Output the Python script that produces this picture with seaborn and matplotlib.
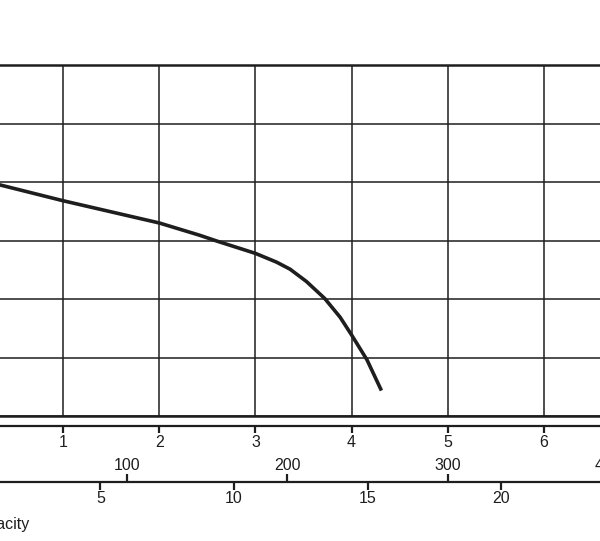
import matplotlib
matplotlib.use('Agg')
import matplotlib.pyplot as plt
import seaborn as sns

# pump curve: flow in l/s, head in m
flow_ls = [0.0, 0.345, 1.0, 2.0, 2.42, 2.6, 3.0, 3.22, 3.36, 3.53, 3.72, 3.88, 4.0, 4.16, 4.31]
head_m = [40.9, 39.5, 36.8, 33.0, 30.9, 29.9, 27.8, 26.3, 25.1, 23.0, 20.1, 16.9, 13.85, 9.6, 4.35]

# axis ticks
ls_ticks = [1, 2, 3, 4, 5, 6]
lmin_ticks = [100, 200, 300, 400]
m3h_ticks = [5, 10, 15, 20]
head_grid = [0, 10, 20, 30, 40, 50, 60]
flow_max = 7
head_max = 60
capacity_label = 'Capacity'

sns.set_theme(style='white')
plt.rcParams['font.family'] = ['Liberation Sans', 'DejaVu Sans']

ink = '#1e1e1e'
W, H = 600, 541
fig = plt.figure(figsize=(W / 100, H / 100), dpi=100)
# the chart is cropped on both sides, so the axes run past the figure edges
ax = fig.add_axes([-33.2 / W, 125 / H, 673.4 / W, 351 / H])

sns.lineplot(x=flow_ls, y=head_m, ax=ax, color=ink, lw=2.6, zorder=5,
             solid_joinstyle='round', solid_capstyle='butt')
ax.set_xlim(0, flow_max)
ax.set_ylim(0, head_max)
ax.set_xticks(ls_ticks)
ax.set_yticks(head_grid)
ax.grid(True, color=ink, lw=1.1)
ax.axhline(0, color=ink, lw=1.8, clip_on=False)
ax.set_xlabel('')
ax.set_ylabel('')

for side in ['left', 'right']:
    ax.spines[side].set_visible(False)
ax.spines['top'].set_color(ink)
ax.spines['top'].set_linewidth(1.8)
ax.spines['bottom'].set_color(ink)
ax.spines['bottom'].set_linewidth(1.6)
ax.spines['bottom'].set_position(('outward', 7.2))
ax.tick_params(axis='y', left=False, labelleft=False)
ax.tick_params(axis='x', bottom=True, direction='out', length=5, width=1.6,
               color=ink, labelsize=11.5, labelcolor=ink, pad=1.5)

low_pos = -65.7 / 351

# l/min scale, ticks and labels above the line
ax2 = ax.twiny()
ax2.set_xlim(0, flow_max * 60)
ax2.set_xticks(lmin_ticks)
ax2.grid(False)
for side in ['left', 'right', 'bottom']:
    ax2.spines[side].set_visible(False)
ax2.spines['top'].set_position(('axes', low_pos))
ax2.spines['top'].set_color(ink)
ax2.spines['top'].set_linewidth(1.6)
ax2.xaxis.set_ticks_position('top')
ax2.tick_params(axis='x', direction='out', length=6, width=1.6, color=ink,
                labelsize=11.5, labelcolor=ink, pad=0.5)

# m3/h scale, ticks and labels below the same line
ax3 = ax.twiny()
ax3.set_xlim(0, flow_max * 3.6)
ax3.set_xticks(m3h_ticks)
ax3.grid(False)
for side in ['left', 'right', 'top']:
    ax3.spines[side].set_visible(False)
ax3.spines['bottom'].set_position(('axes', low_pos))
ax3.spines['bottom'].set_visible(False)
ax3.xaxis.set_ticks_position('bottom')
ax3.xaxis.set_label_position('bottom')
ax3.tick_params(axis='x', bottom=True, top=False, labelbottom=True, labeltop=False,
                direction='out', length=6, width=1.6, color=ink,
                labelsize=11.5, labelcolor=ink, pad=0.5)

fig.text(29.5 / W, (H - 529) / H, capacity_label, ha='right', va='baseline',
         fontsize=11.5, color=ink)

fig.savefig('out.png', dpi=100)
